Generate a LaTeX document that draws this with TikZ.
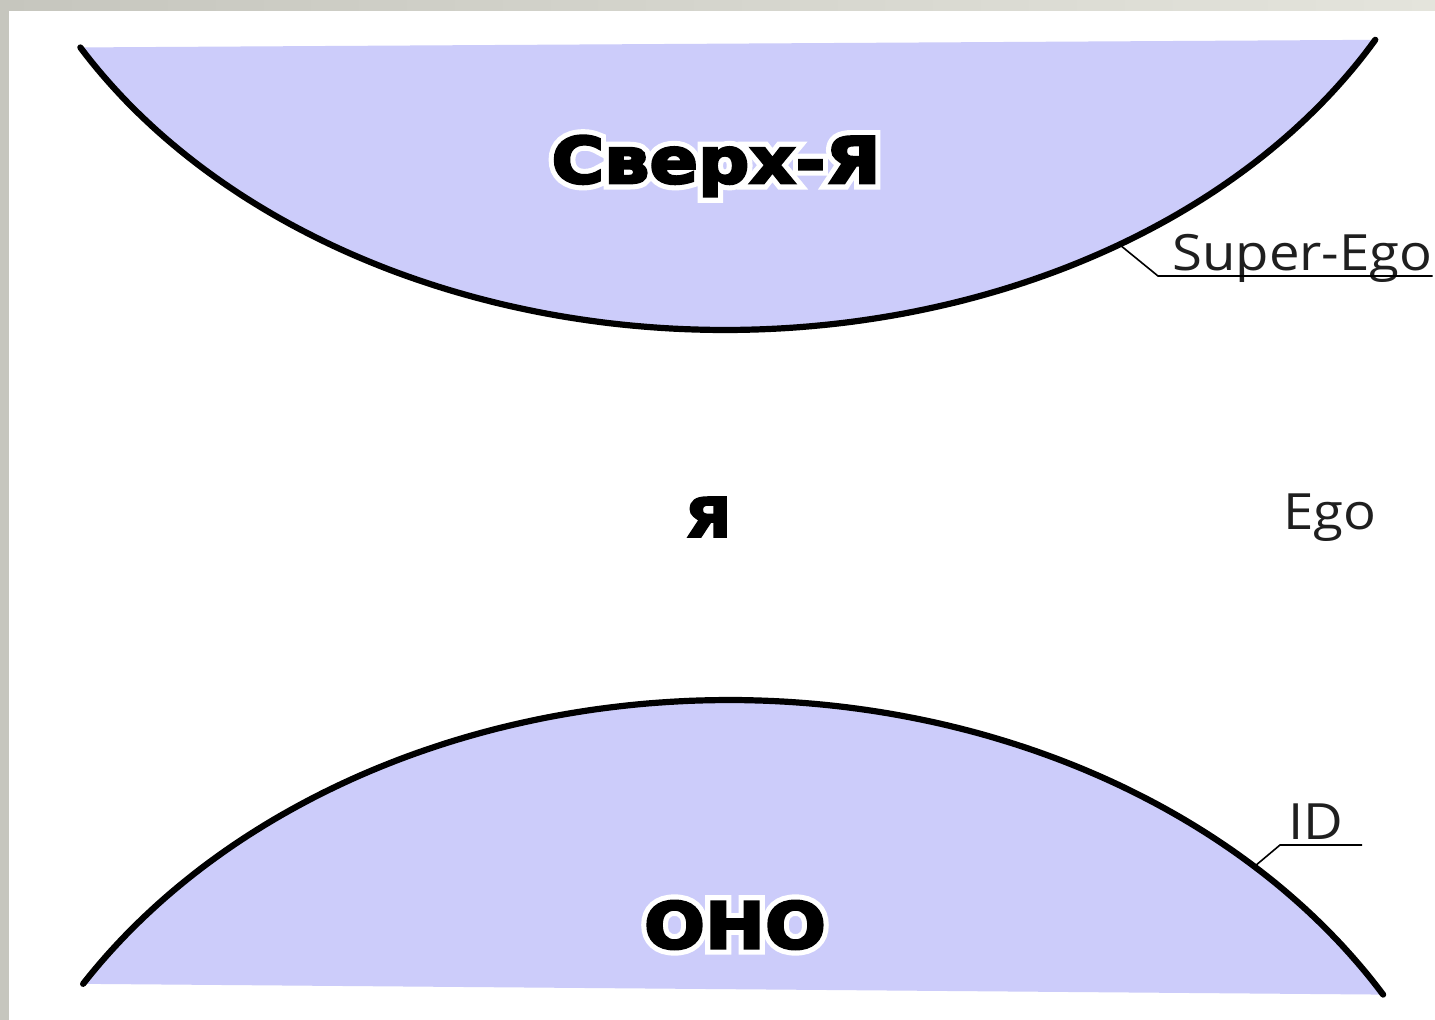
\documentclass[tikz,border=0pt]{standalone}
\usepackage{fontspec}
\setmainfont{Open Sans}[FakeStretch=1.09]
\newfontfamily\heavyfont[FakeBold=4,FakeStretch=1.12]{DejaVu Sans Bold}
\newfontfamily\halofont[FakeBold=20,FakeStretch=1.12]{DejaVu Sans Bold}
\definecolor{lav}{RGB}{204,204,250}
\definecolor{framegray}{RGB}{198,198,190}
\definecolor{framegraylight}{RGB}{228,228,220}
\begin{document}
\begin{tikzpicture}[x=1pt,y=-1pt,
  arcline/.style={line width=6.2pt, line cap=round},
  leader/.style={line width=1.6pt},
  bigtext/.style={font=\heavyfont\fontsize{64}{70}\selectfont, inner sep=0pt},
  halotext/.style={font=\halofont\fontsize{64}{70}\selectfont, inner sep=0pt, text=white},
  lbl/.style={font=\fontsize{50}{56}\selectfont, inner sep=0pt, text=black!88}]
\useasboundingbox (0,0) rectangle (1435,1020);
% frame
\fill[white] (0,0) rectangle (1435,1020);
\shade[left color=framegray, right color=framegraylight] (0,0) rectangle (1435,10);
\fill[framegray] (0,0) rectangle (9,1020);
% top region (Super-Ego)
\fill[lav] plot[domain=28.5:150.6, samples=150] ({725+740*cos(\x)},{-225+555*sin(\x)}) -- cycle;
\draw[arcline] plot[domain=28.5:150.6, samples=150] ({725+740*cos(\x)},{-225+555*sin(\x)});
% bottom region (Id)
\fill[lav] plot[domain=30.6:148.2, samples=150] ({729+760*cos(\x)},{1300-600*sin(\x)}) -- cycle;
\draw[arcline] plot[domain=30.6:148.2, samples=150] ({729+760*cos(\x)},{1300-600*sin(\x)});
% big Russian labels (white halo behind black heavy text)
\node[halotext] (sverkhhalo) at (716,166) {Сверх-Я};
\node[bigtext] (sverkh) at (716,166) {Сверх-Я};
\node[bigtext, font=\heavyfont\fontsize{54}{60}\selectfont] (ya) at (708,517) {Я};
\node[halotext] (onohalo) at (735,925) {ОНО};
\node[bigtext] (ono) at (735,925) {ОНО};
% English labels
\node[lbl, anchor=base west] (sego) at (1172,270) {Super-Ego};
\node[lbl, anchor=base west] (ego) at (1283,529) {Ego};
\node[lbl, anchor=base west] (id) at (1288,839) {ID};
% leaders
\coordinate (seA) at (1120,245);
\coordinate (seB) at (1158,276);
\draw[leader] (seA) -- (seB) -- (seB -| sego.east);
\coordinate (idA) at (1255,866);
\coordinate (idB) at (1280,845);
\coordinate (idC) at (1362,845);
\draw[leader] (idA) -- (idB) -- (idC);
\end{tikzpicture}
\end{document}
